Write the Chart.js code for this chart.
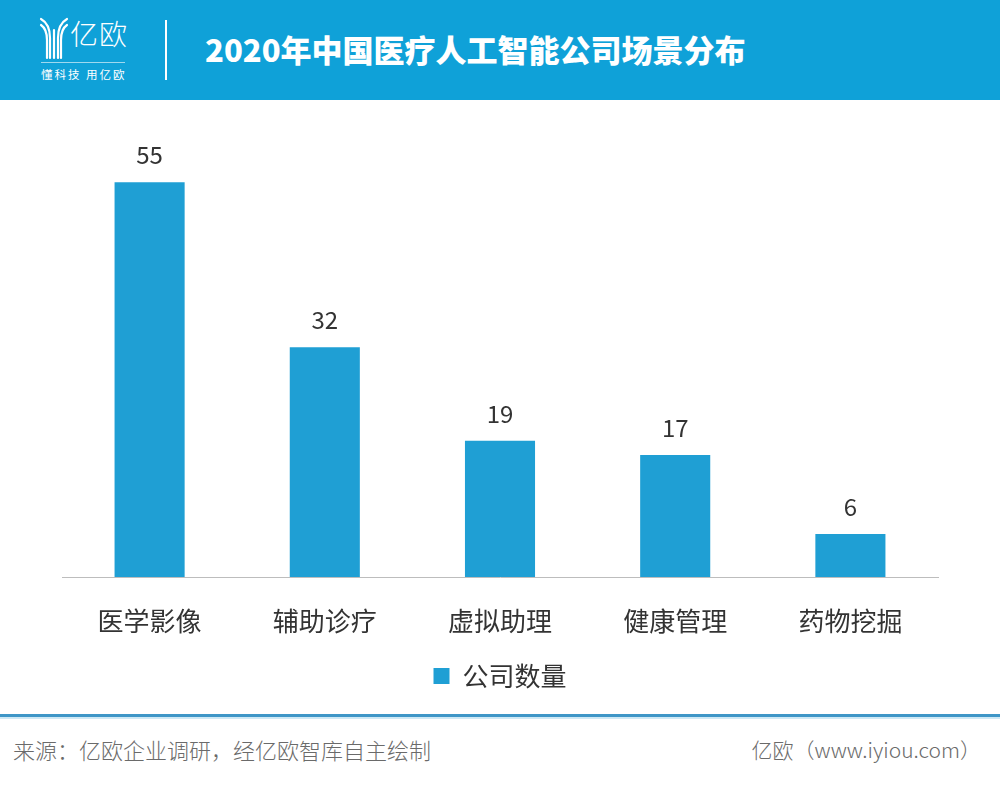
<!DOCTYPE html>
<html>
<head>
<meta charset="utf-8">
<script src="https://cdn.jsdelivr.net/npm/chart.js@4"></script>
<style>
  html, body { margin: 0; padding: 0; background: #fff; }
  body { width: 1000px; height: 787px; position: relative; overflow: hidden;
         font-family: "Noto Sans CJK SC", "Noto Sans", sans-serif; }
  .header { position: absolute; left: 0; top: 0; width: 1000px; height: 100px; background: #0fa1d8; }
  .logo { position: absolute; left: 38px; top: 16px; }
  .brand { position: absolute; left: 70px; top: 16px; color: #fff; font-size: 28px; font-weight: 300; line-height: 34px; letter-spacing: 1px; }
  .logo-line { position: absolute; left: 41px; top: 62px; width: 84px; height: 1px; background: rgba(255,255,255,0.6); }
  .slogan { position: absolute; left: 41px; top: 66px; color: #fff; font-size: 11.5px; letter-spacing: 2px; }
  .divider { position: absolute; left: 165px; top: 20px; width: 2px; height: 60px; background: #fff; }
  .title { position: absolute; left: 205px; top: 26px; color: #fff; font-size: 31px; font-weight: 900; line-height: 46px; }
  #wrap { position: absolute; left: 0; top: 100px; width: 1000px; height: 610px; }
  .rule { position: absolute; left: 0; top: 714px; width: 1000px; height: 3px; background: #3f96c7; }
  .rule2 { position: absolute; left: 0; top: 717px; width: 1000px; height: 2px; background: #cfe9f5; }
  .src { position: absolute; left: 13px; top: 733px; color: #6a6a6a; font-size: 22px; font-weight: 300; }
  .site { position: absolute; right: 19px; top: 734px; color: #6a6a6a; font-size: 21px; font-weight: 300; }
</style>
</head>
<body>
<div class="header">
  <svg class="logo" width="32" height="44" viewBox="0 0 32 44">
    <g fill="none" stroke="#fff" stroke-width="2.2" stroke-linecap="round">
      <path d="M3 3 Q12 8 12 22 L12 42"/>
      <path d="M3 9 Q9 13 9 24 L9 42"/>
      <path d="M29 3 Q20 8 20 22 L20 42"/>
      <path d="M29 9 Q23 13 23 24 L23 42"/>
      <path d="M16 14 L16 42"/>
    </g>
  </svg>
  <div class="brand">亿欧</div>
  <div class="logo-line"></div>
  <div class="slogan">懂科技 用亿欧</div>
  <div class="divider"></div>
  <div class="title">2020年中国医疗人工智能公司场景分布</div>
</div>
<div id="wrap"><canvas id="chart" width="1000" height="610"></canvas></div>
<div class="rule"></div>
<div class="rule2"></div>
<div class="src">来源：亿欧企业调研，经亿欧智库自主绘制</div>
<div class="site">亿欧（www.iyiou.com）</div>
<script>
const categories = ['医学影像', '辅助诊疗', '虚拟助理', '健康管理', '药物挖掘'];
const seriesName = '公司数量';
const companyCounts = [55, 32, 19, 17, 6];

const FONT = '"Noto Sans CJK SC", "Noto Sans", sans-serif';

// value labels above each bar
const valueLabels = {
  id: 'valueLabels',
  afterDatasetsDraw(chart) {
    const ctx = chart.ctx;
    const meta = chart.getDatasetMeta(0);
    ctx.save();
    ctx.font = '24px ' + FONT;
    ctx.fillStyle = '#333';
    ctx.textAlign = 'center';
    ctx.textBaseline = 'middle';
    meta.data.forEach((bar, i) => {
      ctx.fillText(String(chart.data.datasets[0].data[i]), bar.x, bar.y - 27);
    });
    ctx.restore();
  }
};

new Chart(document.getElementById('chart'), {
  type: 'bar',
  data: {
    labels: categories,
    datasets: [{
      label: seriesName,
      data: companyCounts,
      backgroundColor: '#1f9fd4',
      borderWidth: 0,
      barPercentage: 0.4,
      categoryPercentage: 1
    }]
  },
  options: {
    responsive: false,
    animation: false,
    layout: { padding: { left: 62, right: 62, top: 32, bottom: 11 } },
    scales: {
      x: {
        grid: { display: false },
        border: { color: '#bdbdbd', width: 1 },
        ticks: { color: '#333', padding: 21, font: { family: FONT, size: 26 } },
        afterFit(scale) { scale.height = 76; }
      },
      y: { display: false, min: 0, max: 62 }
    },
    plugins: {
      legend: {
        position: 'bottom',
        labels: {
          boxWidth: 16, boxHeight: 16, padding: 10,
          color: '#333', font: { family: FONT, size: 26 }
        }
      },
      tooltip: { enabled: false }
    }
  },
  plugins: [valueLabels]
});
</script>
</body>
</html>
